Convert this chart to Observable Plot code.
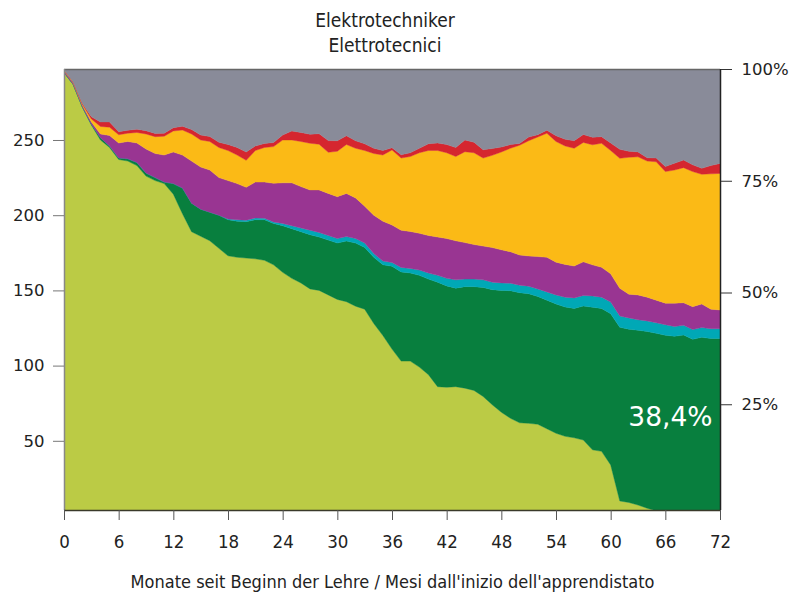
<!DOCTYPE html>
<html><head><meta charset="utf-8">
<script src="https://cdn.jsdelivr.net/npm/d3@7"></script>
<script src="https://cdn.jsdelivr.net/npm/@observablehq/plot@0.6"></script>
<style>
body{margin:0;background:#fff;width:792px;height:598px;overflow:hidden;}
#title{height:58px;width:770px;text-align:center;font-family:"DejaVu Sans Condensed","DejaVu Sans",sans-serif;font-stretch:condensed;font-size:19px;line-height:25px;color:#222;padding-top:8px;box-sizing:border-box}
#chart svg{display:block}
</style></head><body>
<div id="title"><div>Elektrotechniker</div><div>Elettrotecnici</div></div>
<div id="chart"></div>
<script>
const titleLines = ["Elektrotechniker", "Elettrotecnici"];
const axisTitle = "Monate seit Beginn der Lehre / Mesi dall'inizio dell'apprendistato";
const months = d3.range(0, 73);
const xTicks = [0, 6, 12, 18, 24, 30, 36, 42, 48, 54, 60, 66, 72];
const yTicks = [50, 100, 150, 200, 250];
const percentTicks = [25, 50, 75, 100];
const cohortTotal = 297.2;
const seriesNames = ["in Lehre", "Abschluss", "Lehre wiederholt", "Lehrvertragsauflösung, neue Lehre", "anderer Lehrberuf", "andere Ausbildung", "ohne Ausbildung"];
const seriesColors = ["#BBCB45", "#087F3E", "#00A8B6", "#993592", "#FBBA16", "#D5262F", "#898B99"];

const lehre = [295,287,272,260,250,245,237,236,233,226,223,221,214,201,189,186,183,178,173,172,171.5,171,170,167,162,158,155,151,150,147,144,142.5,139.5,137.5,128,120,111,103,103,99,94,86,85.6,86,85,83.5,79.5,74,69,65,62,61.6,61,58,55,53,52,50.5,44,43,34,10,9,7.3,5.2,3.5,2,1,0,0,0,0,0];
const abschluss = [0,0,0.3,0.5,1.5,1,1,1.5,2,2,2,1,7,17,19,18,19,22,24,24,24.2,26,27,27.5,31,33,34,36,35.5,36.5,37.5,40.3,42,41,44,47,55,59.3,58.6,61,63.5,69.5,67.4,65.5,67.5,69,72.5,76.5,81,84.8,86.5,86.2,85,85.5,86,86,86,89.1,94.8,95,100.5,115.5,115.2,116.2,117.5,118,118.2,118.5,120.3,117.5,118.8,118,118];
const wiederholt = [0,0,0,0,0,0,0,0,0,0,0,0,0,0,0,0,0,0,0.5,1,1,1.2,1,1,1.5,2,2.5,3,3,3,3,3,3,3,2.5,2.5,2.5,3,3,3.5,4,4.5,5,5.5,5,5,5,5,5,5,5,5,5,5.5,6,6.5,7,7,7.5,7.5,7.8,7.5,7.5,7,7,7,7,6.5,6.5,6.5,6.5,6.5,6.5];
const neueLehre = [1,1,1,1.5,2.5,7,10,11.5,13,16,16,18,21,22,28,28,28,25,25.5,24,21.8,23.8,24,25.7,27,28.5,27.5,26.8,28.3,28,27.8,28.7,27,24.5,25.5,26.5,25,24.7,24.6,24.5,25,25.5,26.5,26,24.3,23,22.5,23,22,20.9,20,20.1,21.5,23,21.8,21.8,21.2,22.4,20.7,19.9,18.7,18.4,15.8,16.5,15.8,15,14.3,15.5,15,15.2,15.7,13,12.5];
const andererBeruf = [0.5,0.5,0.7,2,5,5.5,5.5,5.5,7,10,11.2,12.5,14,16.6,18,18,19,20,20,19,18,21,23,24.4,28.5,28.5,30,31,30.4,27.3,30.2,32.5,33,37,41,44,49.9,48,49.8,53.5,56.5,57.5,57,56,60.4,61,58.5,61.3,65,68.8,73,76.6,79.5,82.5,80.2,78.7,78.3,79.4,79.8,82.4,82,86.4,91,91.8,90.5,92,87.5,88.5,89.8,89.8,86.2,90,90.8];
const andereAusbildung = [0,0,0.5,1.5,3,3.5,2,2,2.2,2.2,2.2,2,2.2,2.5,3,3.3,3.3,3.5,4,5,5.5,3,2.7,2.7,3.3,6,6,6,7,7.8,7,5.8,5,4.5,3.5,3,1.5,2.2,2.5,3,4.5,5,5.5,6,7.8,7,5.5,4.5,3.3,2.5,1.2,2.5,1.5,2,3.8,4.5,5,5.3,5,4.4,5,6,4,3.3,2.2,2.5,3.3,4.5,5.1,4.5,4,5.5,6.6];
const ohneAusbildung = [0.7,8.7,22.7,31.7,35.2,35.2,41.7,40.7,40,41,42.8,42.7,39,38.1,40.2,43.9,44.9,48.7,50.2,52.2,55.2,51.2,49.5,48.9,43.9,41.2,42.2,43.4,43,47.6,47.7,44.4,47.7,49.7,52.7,54.2,52.3,57,55.7,52.7,49.7,49.2,50.2,52.2,47.2,48.7,53.7,52.9,51.9,50.2,49.5,45.2,43.7,40.7,44.4,46.7,47.7,43.5,45.4,45,49.2,53.4,54.7,55.1,59,59.2,64.9,62.7,60.5,63.7,66,64.2,62.8];

const annotationText = ["38,4%"];
const annotationMonth = [72];
const annotationValue = [66];

const seriesValues = [lehre, abschluss, wiederholt, neueLehre, andererBeruf, andereAusbildung, ohneAusbildung];
const rows = [];
seriesNames.forEach((name, i) => {
  months.forEach((m, j) => rows.push({month: m, series: name, value: seriesValues[i][j]}));
});
const annotations = annotationText.map((t, i) => ({label: t, month: annotationMonth[i], value: annotationValue[i]}));

const condensed = "DejaVu Sans Condensed, DejaVu Sans, sans-serif";
const chart = Plot.plot({
  width: 792,
  height: 540,
  marginLeft: 64,
  marginRight: 72,
  marginTop: 11,
  marginBottom: 88,
  style: {fontFamily: "DejaVu Sans, sans-serif", background: "#fff", color: "#222"},
  x: {domain: [0, 72]},
  y: {domain: [4, cohortTotal]},
  color: {domain: seriesNames, range: seriesColors},
  marks: [
    Plot.areaY(rows, {x: "month", y: "value", z: "series", fill: "series", stroke: "series", strokeWidth: 0.4, order: seriesNames, curve: "linear", clip: true}),
    Plot.ruleY([cohortTotal], {stroke: "#666", strokeWidth: 1.5}),
    Plot.ruleX([0], {stroke: "#888", strokeWidth: 1.5}),
    Plot.ruleX([72], {stroke: "#222", strokeWidth: 1.5}),
    Plot.ruleY([4], {stroke: "#3a3a2a", strokeWidth: 1.5}),
    Plot.axisX({ticks: xTicks, tickSize: 10, tickPadding: 14, fontSize: 18.5, fontFamily: condensed, stroke: "#555", fill: "#222", label: null}),
    Plot.axisY({anchor: "left", ticks: yTicks, tickSize: 11, tickPadding: 9, fontSize: 16.5, stroke: "#777", fill: "#222", label: null}),
    Plot.axisY({anchor: "right", ticks: percentTicks.map(p => p / 100 * cohortTotal), tickFormat: d => Math.round(d / cohortTotal * 100) + "%", tickSize: 11, tickPadding: 10, fontSize: 16.5, stroke: "#333", fill: "#222", label: null}),
    Plot.text([axisTitle], {frameAnchor: "bottom", dy: 77, fontSize: 18, fontFamily: condensed, fill: "#222"}),
    Plot.text(annotations, {x: "month", y: "value", text: "label", textAnchor: "end", dx: -8, fill: "white", fontSize: 26.5})
  ]
});
document.getElementById("chart").appendChild(chart);
</script>
</body></html>
